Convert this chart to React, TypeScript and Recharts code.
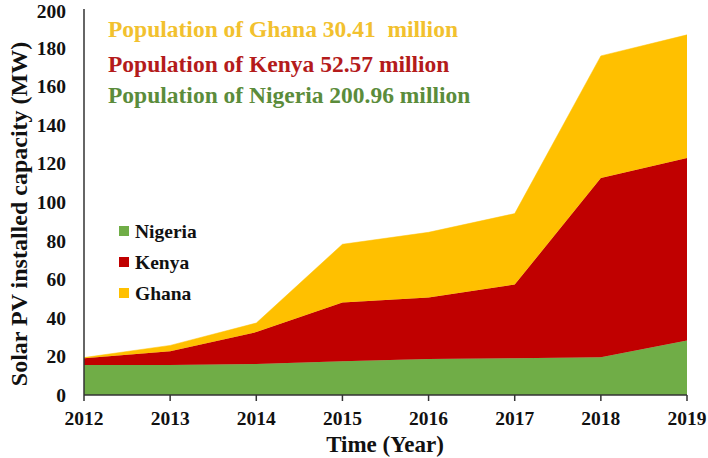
import React from "react";
import { AreaChart, Area, XAxis, YAxis, Customized } from "recharts";

const years = [2012, 2013, 2014, 2015, 2016, 2017, 2018, 2019];
const nigeria = [15.6, 15.6, 16.1, 17.5, 18.6, 19.1, 19.6, 28.3];
const kenya = [3.5, 7.1, 16.5, 30.4, 31.9, 38.1, 92.8, 94.5];
const ghana = [0.3, 3.0, 4.7, 30.2, 33.8, 36.8, 63.3, 63.8];
const yTicks = [0, 20, 40, 60, 80, 100, 120, 140, 160, 180, 200];
const seriesNames = ["Nigeria", "Kenya", "Ghana"];
const notes = [
  "Population of Ghana 30.41  million",
  "Population of Kenya 52.57 million",
  "Population of Nigeria 200.96 million",
];
const noteBaselines = [37, 72, 103];

const FILLS = ["#70AD47", "#C00000", "#FFC000"];
const NOTE_COLORS = ["#F2C12E", "#B41B1B", "#5B8C3B"];
const FONT = "'Liberation Serif', 'Times New Roman', serif";

const data = years.map((y, i) => ({
  year: y,
  Nigeria: nigeria[i],
  Kenya: kenya[i],
  Ghana: ghana[i],
}));

const Overlay = () => (
  <g fontFamily={FONT} fontWeight="bold">
    {notes.map((t, i) => (
      <text
        key={t}
        x={108}
        y={noteBaselines[i]}
        fontSize={23.5}
        fill={NOTE_COLORS[i]}
        style={{ whiteSpace: "pre" }}
      >
        {t}
      </text>
    ))}
    {seriesNames.map((n, i) => (
      <g key={n}>
        <rect x={119} y={226 + i * 31} width={10} height={10} fill={FILLS[i]} />
        <text x={135} y={238 + i * 31} fontSize={19.5} fill="#111">
          {n}
        </text>
      </g>
    ))}
    <text
      transform="translate(27,214) rotate(-90)"
      textAnchor="middle"
      fontSize={24}
      fill="#111"
    >
      Solar PV installed capacity (MW)
    </text>
    <text x={385} y={452} textAnchor="middle" fontSize={23} fill="#111">
      Time (Year)
    </text>
  </g>
);

export default function App() {
  return (
    <div style={{ position: "absolute", left: 0, top: 0, background: "#fff" }}>
      <AreaChart
        width={708}
        height={458}
        data={data}
        margin={{ top: 9, right: 21, bottom: 0, left: 0 }}
      >
        <XAxis
          dataKey="year"
          type="number"
          domain={[2012, 2019]}
          ticks={years}
          height={63}
          axisLine={{ stroke: "#333", strokeWidth: 1.5 }}
          tickLine={{ stroke: "#333", strokeWidth: 1.5 }}
          tickSize={6}
          tickMargin={10}
          tick={{ fontSize: 19.5, fontWeight: "bold", fill: "#111", fontFamily: FONT }}
        />
        <YAxis
          type="number"
          domain={[0, 200]}
          ticks={yTicks}
          width={84}
          axisLine={{ stroke: "#333", strokeWidth: 1.5 }}
          tickLine={false}
          tickSize={6}
          tickMargin={12}
          tick={{ fontSize: 19.5, fontWeight: "bold", fill: "#111", fontFamily: FONT }}
        />
        {seriesNames.map((n, i) => (
          <Area
            key={n}
            type="linear"
            dataKey={n}
            stackId="1"
            stroke={FILLS[i]}
            strokeWidth={0.5}
            fill={FILLS[i]}
            fillOpacity={1}
            isAnimationActive={false}
          />
        ))}
        <Customized component={Overlay} />
      </AreaChart>
    </div>
  );
}
